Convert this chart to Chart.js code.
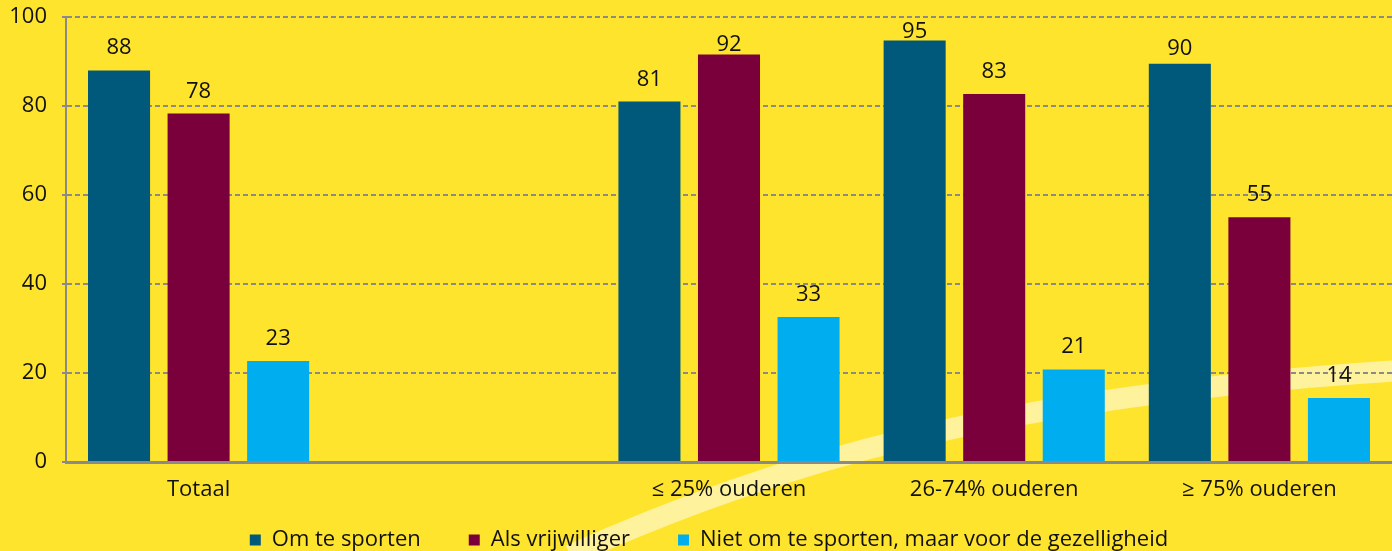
<!DOCTYPE html>
<html>
<head>
<meta charset="utf-8">
<script src="https://cdn.jsdelivr.net/npm/chart.js@4/dist/chart.umd.min.js"></script>
<style>
  body { margin: 0; background: #FFE42D; }
  #wrap { width: 1392px; height: 551px; }
</style>
</head>
<body>
<div id="wrap"><canvas id="chart" width="1392" height="551"></canvas></div>
<script>
// categories (empty slot between Totaal and the groups)
let categories = ["Totaal", "", "≤ 25% ouderen", "26-74% ouderen", "≥ 75% ouderen"];

let sporten = [88, null, 81, 94.7, 89.5];
let vrijwilliger = [78.3, null, 91.6, 82.7, 55];
let gezelligheid = [22.7, null, 32.6, 20.8, 14.4];

let seriesNames = ["Om te sporten", "Als vrijwilliger", "Niet om te sporten, maar voor de gezelligheid"];
let seriesColors = ["#00587A", "#7A003C", "#00AEEF"];

let yTicks = [0, 20, 40, 60, 80, 100];

const FONT = "'Open Sans', sans-serif";

// yellow background + the light swoosh behind the plot
const background = {
    id: 'background',
    beforeDraw(chart) {
        let c = chart.ctx;
        c.save();
        c.fillStyle = '#FFE42D';
        c.fillRect(0, 0, chart.width, chart.height);
        c.strokeStyle = '#FFF29C';
        c.lineWidth = 21;
        c.beginPath();
        c.moveTo(570, 555);
        c.bezierCurveTo(780, 462, 1000, 395, 1410, 370);
        c.stroke();
        c.restore();
    }
};

// x labels hang below their (thin) box, over the legend's top padding;
// widen the box again so they are not clipped, and nudge the legend right
const fixLayout = {
    id: 'fixLayout',
    afterLayout(chart) {
        let x = chart.scales.x;
        x.bottom = chart.height;
        x.height = x.bottom - x.top;
        chart.legend.left += 13;
        chart.legend.right += 13;
    }
};

// value labels above each bar (squeezed closer to the bar near the top)
const valueLabels = {
    id: 'valueLabels',
    afterDatasetsDraw(chart) {
        let c = chart.ctx;
        c.save();
        c.font = "22px " + FONT;
        c.fillStyle = '#111';
        c.textAlign = 'center';
        c.textBaseline = 'alphabetic';
        chart.data.datasets.forEach((ds, i) => {
            chart.getDatasetMeta(i).data.forEach((bar, j) => {
                let v = ds.data[j];
                if (v === null) return;
                let gap = v >= 91 ? 3 : (v >= 89 ? 9 : 16);
                c.fillText(Math.round(v), bar.x, bar.y - gap);
            });
        });
        c.restore();
    }
};

let ctx = document.getElementById('chart').getContext('2d');

let chart = new Chart(ctx, {
    type: 'bar',
    data: {
        labels: categories,
        datasets: [sporten, vrijwilliger, gezelligheid].map((d, i) => ({
            label: seriesNames[i],
            data: d,
            backgroundColor: seriesColors[i],
            categoryPercentage: 0.9,
            barPercentage: 0.78
        }))
    },
    options: {
        responsive: false,
        animation: false,
        layout: { padding: { top: 0, right: 0, left: 0, bottom: 0 } },
        plugins: {
            legend: {
                position: 'bottom',
                maxHeight: 70,
                labels: {
                    font: { family: FONT, size: 22 },
                    color: '#111',
                    boxWidth: 11,
                    boxHeight: 11,
                    padding: 48
                }
            },
            tooltip: { enabled: false }
        },
        scales: {
            x: {
                afterFit(scale) { scale.height = 19; },
                grid: { display: false, drawTicks: false },
                border: { color: '#8a8a8a', width: 3 },
                ticks: {
                    font: { family: FONT, size: 22 },
                    color: '#111',
                    padding: 15,
                    maxRotation: 0,
                    autoSkip: false
                }
            },
            y: {
                min: 0,
                max: 100,
                afterBuildTicks(scale) {
                    scale.ticks = yTicks.map(v => ({ value: v }));
                },
                afterFit(scale) {
                    scale.width = 66;
                    scale.paddingTop = 17;
                },
                grid: {
                    color: '#8a8a8a',
                    lineWidth: 2,
                    tickLength: 4,
                    tickBorderDash: [5, 3]
                },
                border: { color: '#8a8a8a', width: 2, dash: [5, 3] },
                ticks: {
                    font: { family: FONT, size: 22 },
                    color: '#111',
                    padding: 15
                }
            }
        }
    },
    plugins: [background, fixLayout, valueLabels]
});
</script>
</body>
</html>
